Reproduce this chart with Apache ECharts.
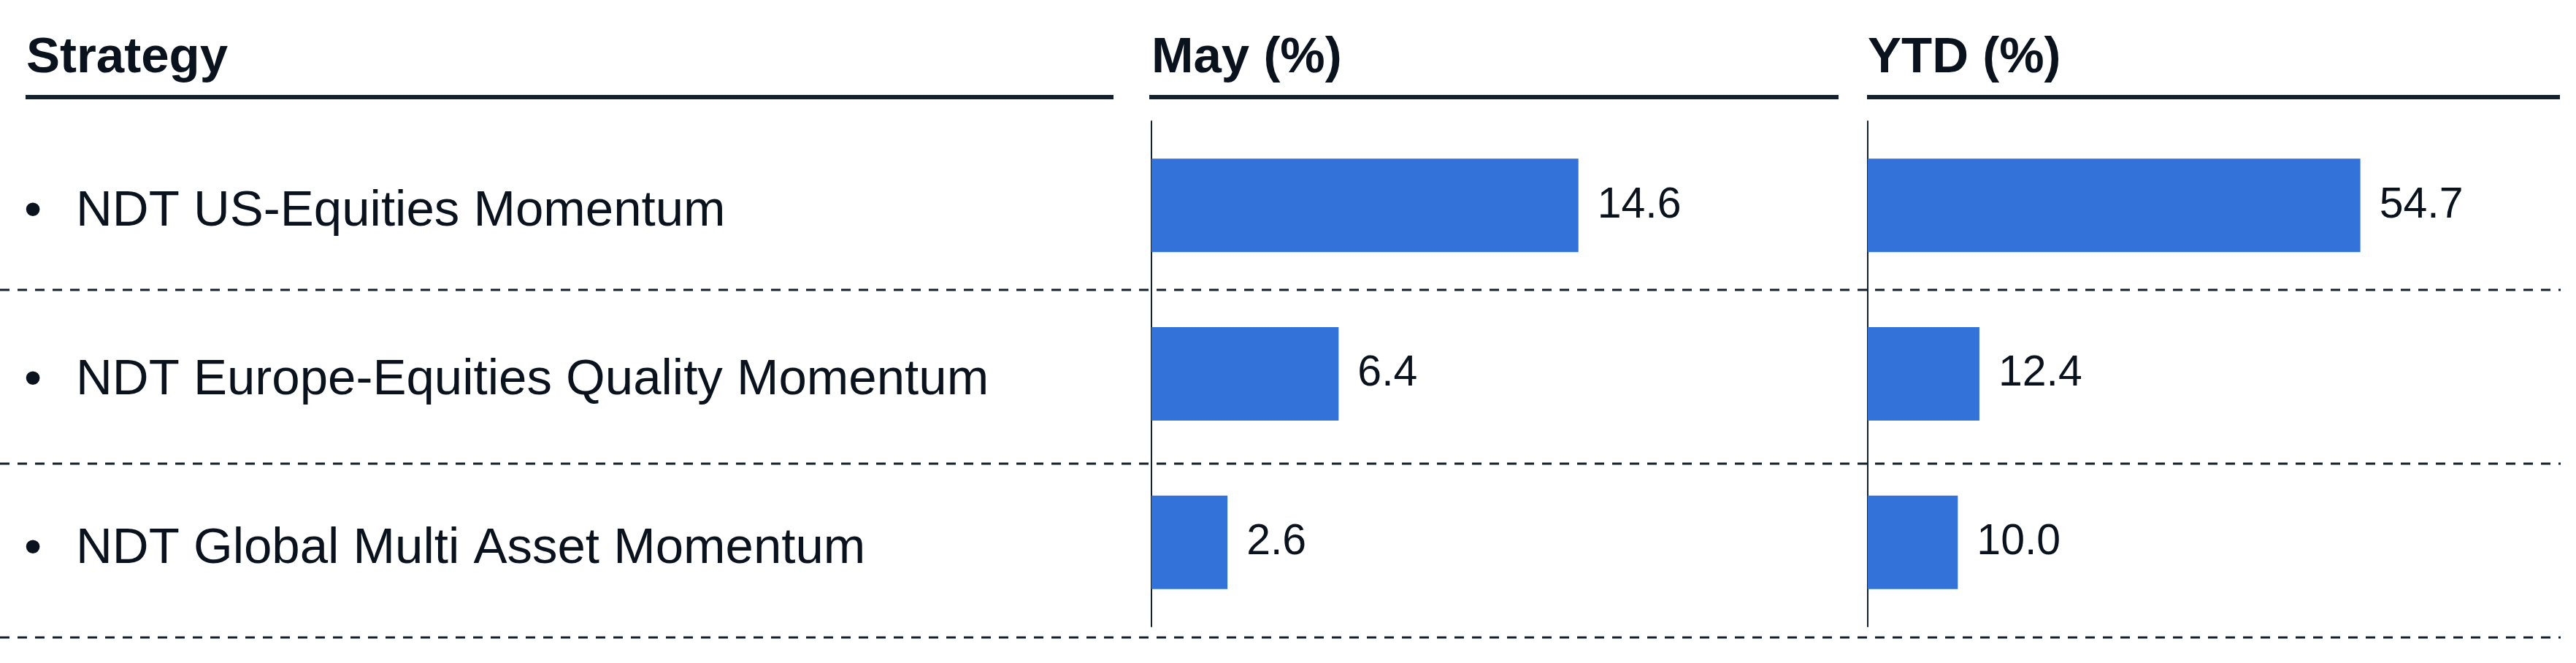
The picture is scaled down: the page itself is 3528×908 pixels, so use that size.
<!DOCTYPE html>
<html>
<head>
<meta charset="utf-8">
<script src="https://cdn.jsdelivr.net/npm/echarts@6/dist/echarts.min.js"></script>
<style>
  html, body { margin: 0; padding: 0; background: #ffffff; }
  #chart { width: 3528px; height: 908px; }
</style>
</head>
<body>
<div id="chart"></div>
<script>
// ---- data ----
const categories = [
  'NDT US-Equities Momentum',
  'NDT Europe-Equities Quality Momentum',
  'NDT Global Multi Asset Momentum'
];
const mayValues = [14.6, 6.4, 2.6];
const ytdValues = [54.7, 12.4, 10.0];
const headers = ['Strategy', 'May (%)', 'YTD (%)'];

// ---- styles ----
const FONT = '"Liberation Sans", Arial, Helvetica, sans-serif';
const TEXT = '#0a131d';
const LINE = '#13202e';
const BAR = '#3272d9';

const chart = echarts.init(document.getElementById('chart'), null, { renderer: 'canvas' });

const gridTop = 166, gridHeight = 692;

function barSeries(values, idx) {
  return {
    type: 'bar',
    xAxisIndex: idx,
    yAxisIndex: idx,
    data: values,
    barWidth: 128,
    itemStyle: { color: BAR },
    label: {
      show: true,
      position: 'right',
      distance: 26,
      color: TEXT,
      fontFamily: FONT,
      fontSize: 59,
      padding: [10, 0, 0, 0],
      formatter: p => Number(p.value).toFixed(1)
    },
    silent: true,
    animation: false
  };
}

const hdrX = [36, 1577, 2558];
const underlines = [[35, 1525], [1574, 2518], [2557, 3506]];
const dashedY = [397, 635, 873];

const graphics = [];
headers.forEach((h, i) => {
  graphics.push({
    type: 'text',
    left: hdrX[i],
    top: 45,
    style: { text: h, font: 'bold 69px ' + FONT, fill: TEXT }
  });
});
underlines.forEach(u => {
  graphics.push({
    type: 'line',
    shape: { x1: u[0], y1: 133, x2: u[1], y2: 133 },
    style: { stroke: LINE, lineWidth: 6 }
  });
});
dashedY.forEach(y => {
  graphics.push({
    type: 'line',
    shape: { x1: 0, y1: y, x2: 3507, y2: y },
    style: { stroke: LINE, lineWidth: 3, lineDash: [13, 11] }
  });
});

const option = {
  backgroundColor: '#ffffff',
  animation: false,
  grid: [
    { left: 1577, top: gridTop, width: 801, height: gridHeight },
    { left: 2558, top: gridTop, width: 740, height: gridHeight }
  ],
  xAxis: [
    { type: 'value', gridIndex: 0, min: 0, max: 20, show: false },
    { type: 'value', gridIndex: 1, min: 0, max: 60, show: false }
  ],
  yAxis: [
    {
      type: 'category', gridIndex: 0, data: categories, inverse: true,
      axisLine: { show: true, lineStyle: { color: LINE, width: 2 } },
      axisTick: { show: false },
      splitLine: { show: false },
      axisLabel: {
        show: true,
        align: 'left',
        margin: 1577 - 33,
        padding: [18, 0, 0, 0],
        formatter: v => '{b|•}{t|' + v + '}',
        rich: {
          b: { fontFamily: FONT, fontSize: 69, color: TEXT, width: 71 },
          t: { fontFamily: FONT, fontSize: 69, color: TEXT }
        }
      }
    },
    {
      type: 'category', gridIndex: 1, data: categories, inverse: true,
      axisLine: { show: true, lineStyle: { color: LINE, width: 2 } },
      axisTick: { show: false },
      splitLine: { show: false },
      axisLabel: { show: false }
    }
  ],
  series: [barSeries(mayValues, 0), barSeries(ytdValues, 1)],
  graphic: graphics
};

chart.setOption(option);
</script>
</body>
</html>
